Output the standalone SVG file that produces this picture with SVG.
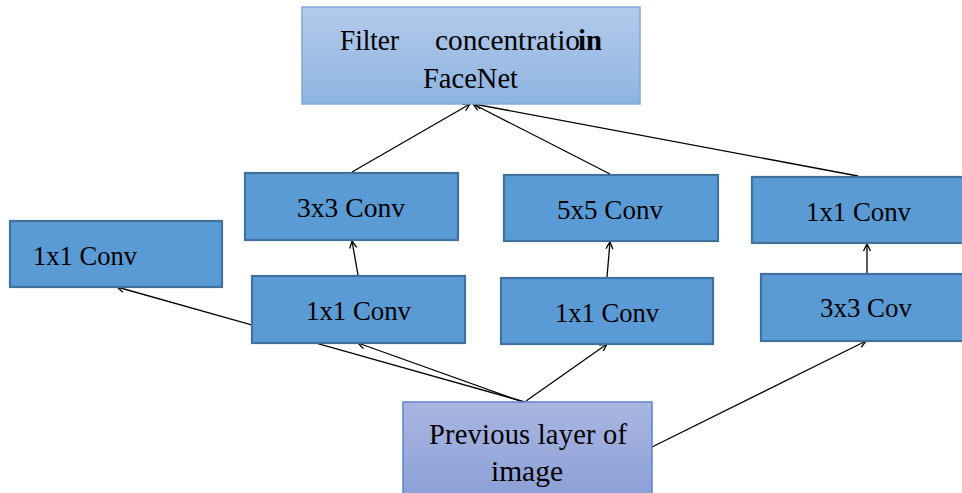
<svg xmlns="http://www.w3.org/2000/svg" width="962" height="493" viewBox="0 0 962 493">
<defs>
<linearGradient id="gTop" x1="0" y1="0" x2="0" y2="1">
<stop offset="0" stop-color="#b3cbea"/>
<stop offset="1" stop-color="#8eb3e1"/>
</linearGradient>
<linearGradient id="gBot" x1="0" y1="0" x2="0" y2="1">
<stop offset="0" stop-color="#aab6e1"/>
<stop offset="1" stop-color="#8a9ed6"/>
</linearGradient>
<marker id="arr" markerWidth="10" markerHeight="10" refX="8" refY="4" orient="auto" markerUnits="userSpaceOnUse">
<path d="M1,0.5 L8,4 L1,7.5" fill="none" stroke="#000" stroke-width="1.3"/>
</marker>
<style>
.box{fill:#5b9bd5;stroke:#41719c;stroke-width:2.2}
.t{font-family:"Liberation Serif","Times New Roman",serif;font-size:27px;fill:#000}
.big{font-size:28.5px}
.c{stroke:#000;stroke-width:1.3;fill:none}
.a{marker-end:url(#arr)}
</style>
</defs>
<rect width="962" height="493" fill="#fff"/>

<g id="connectors">
<line class="c a" x1="352" y1="172" x2="470" y2="104"/>
<line class="c a" x1="610" y1="174" x2="473" y2="104"/>
<line class="c a" x1="858" y1="176" x2="474" y2="104"/>
<line class="c a" x1="358" y1="275" x2="352" y2="241"/>
<line class="c a" x1="607" y1="277" x2="610" y2="242"/>
<line class="c a" x1="867" y1="273" x2="867" y2="244"/>
<line class="c a" x1="525" y1="402" x2="117" y2="287"/>
<line class="c a" x1="523" y1="402" x2="358" y2="343"/>
<line class="c a" x1="526" y1="401" x2="607" y2="344"/>
<line class="c a" x1="652" y1="447" x2="866" y2="341"/>
</g>

<g id="filter-concentration">
<rect x="302" y="7" width="338" height="97" fill="url(#gTop)" stroke="#7fa9dc" stroke-width="1.5"/>
<text class="t big" x="340" y="50" textLength="59" lengthAdjust="spacingAndGlyphs">Filter</text>
<text class="t big" x="435" y="50" textLength="145" lengthAdjust="spacingAndGlyphs">concentratio</text>
<text class="t big" x="578" y="50" font-weight="bold" textLength="24" lengthAdjust="spacingAndGlyphs">in</text>
<text class="t big" x="423" y="88" textLength="95" lengthAdjust="spacingAndGlyphs">FaceNet</text>
</g>

<g id="conv1x1-left">
<rect class="box" x="10" y="221" width="212" height="66"/>
<text class="t" x="33" y="265" textLength="104" lengthAdjust="spacingAndGlyphs">1x1 Conv</text>
</g>

<g id="conv3x3-top">
<rect class="box" x="245" y="173" width="213" height="67"/>
<text class="t" x="297" y="217" textLength="108" lengthAdjust="spacingAndGlyphs">3x3 Conv</text>
</g>

<g id="conv1x1-midleft">
<rect class="box" x="252" y="276" width="213" height="67"/>
<text class="t" x="306" y="320" textLength="105" lengthAdjust="spacingAndGlyphs">1x1 Conv</text>
</g>

<g id="conv5x5">
<rect class="box" x="504" y="175" width="214" height="66"/>
<text class="t" x="557" y="219" textLength="106" lengthAdjust="spacingAndGlyphs">5x5 Conv</text>
</g>

<g id="conv1x1-midright">
<rect class="box" x="501" y="278" width="212" height="66"/>
<text class="t" x="555" y="322" textLength="104" lengthAdjust="spacingAndGlyphs">1x1 Conv</text>
</g>

<g id="conv1x1-right">
<rect class="box" x="752" y="177" width="220" height="66"/>
<text class="t" x="806" y="221" textLength="105" lengthAdjust="spacingAndGlyphs">1x1 Conv</text>
</g>

<g id="cov3x3-right">
<rect class="box" x="761" y="274" width="211" height="67"/>
<text class="t" x="820" y="317" textLength="92" lengthAdjust="spacingAndGlyphs">3x3 Cov</text>
</g>

<g id="previous-layer">
<rect x="403" y="402" width="249" height="100" fill="url(#gBot)" stroke="#5b84d2" stroke-width="1.5"/>
<text class="t big" x="429" y="444" textLength="198" lengthAdjust="spacing">Previous layer of</text>
<text class="t big" x="491" y="481" textLength="72" lengthAdjust="spacingAndGlyphs">image</text>
</g>
</svg>
